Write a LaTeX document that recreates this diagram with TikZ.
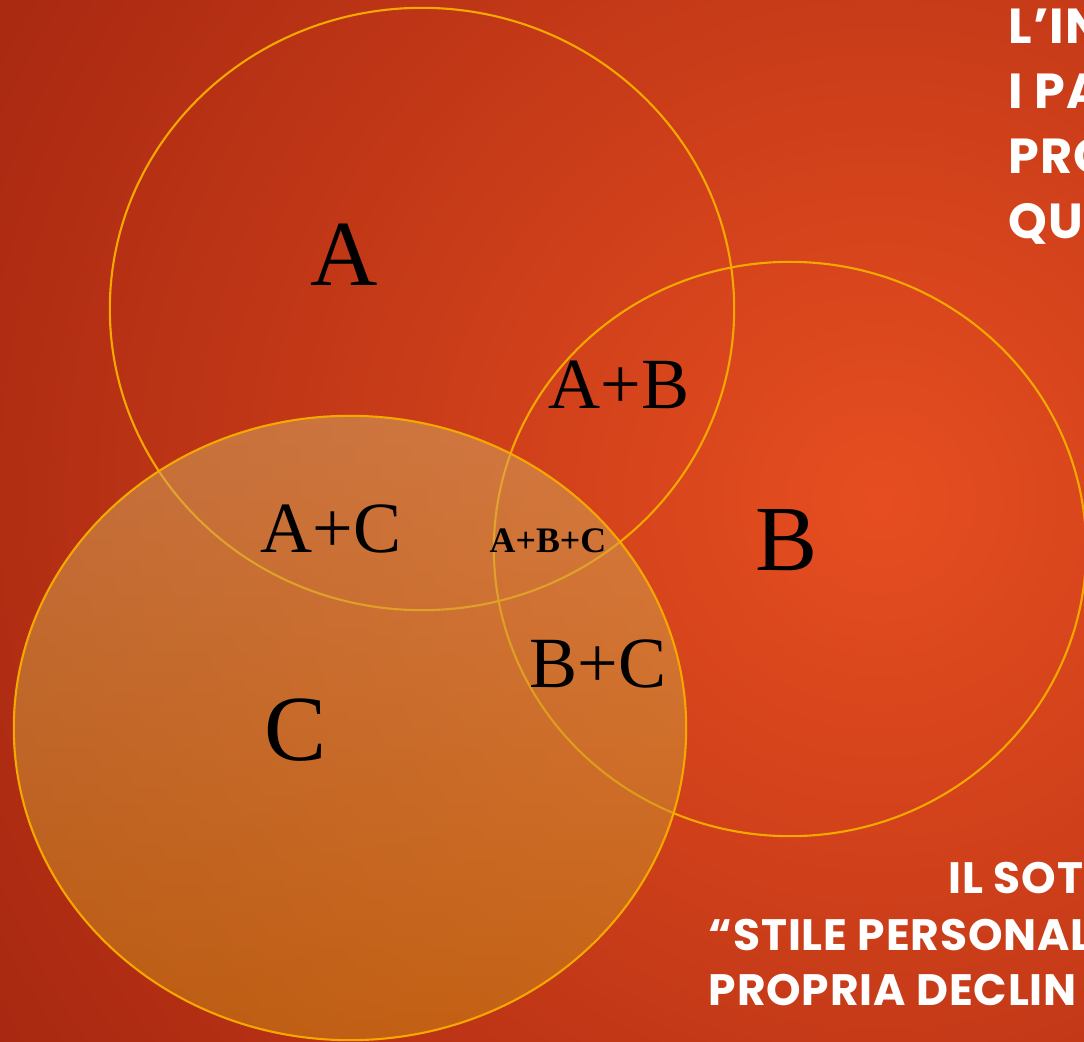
\documentclass[tikz,border=0pt]{standalone}
\usepackage{fontspec}
\setmainfont{Liberation Serif}
\newfontfamily\slidefont[LetterSpace=2]{Poppins}
\definecolor{bgin}{RGB}{230,78,32}
\definecolor{bgout}{RGB}{148,28,12}
\definecolor{ringcol}{RGB}{245,168,0}
\definecolor{ctop}{RGB}{210,165,95}
\definecolor{cbot}{RGB}{200,132,20}
\begin{document}
\begin{tikzpicture}[x=0.01cm,y=-0.01cm,
  ring/.style={draw=ringcol,line width=0.6pt},
  lab/.style={anchor=base,inner sep=0pt,font=\fontsize{20.5}{20.5}\selectfont},
  biglab/.style={anchor=base,inner sep=0pt,font=\fontsize{26.5}{26.5}\selectfont},
  slidetxt/.style={anchor=base west,inner sep=0pt,text=white,font=\slidefont\bfseries\fontsize{#1}{#1}\selectfont}]
\useasboundingbox (0,0) rectangle (1084,1042);
\clip (0,0) rectangle (1084,1042);
\shade[inner color=bgin,outer color=bgout] (880,500) circle (13.5cm);
% circles A and B
\coordinate (ca) at (422,309);
\coordinate (cb) at (790,549);
\coordinate (cc) at (350,728);
\draw[ring] (ca) ellipse [x radius=3.12cm,y radius=3.01cm];
\draw[ring] (cb) ellipse [x radius=2.96cm,y radius=2.87cm];
% circle C, filled
\shade[top color=ctop,bottom color=cbot,opacity=0.55] (cc) ellipse [x radius=3.36cm,y radius=3.12cm];
\draw[ring] (cc) ellipse [x radius=3.36cm,y radius=3.12cm];
\node[biglab] (la) at (344,285) {A};
\node[biglab] (lb) at (787,570) {B};
\node[biglab] (lc) at (296,760) {C};
\node[lab] (lab) at (619,408) {A+B};
\node[lab] (lac) at (331,552) {A+C};
\node[lab] (lbc) at (598,687) {B+C};
\node[anchor=base,inner sep=0pt,font=\bfseries\fontsize{10.2}{10.2}\selectfont] (labc) at (548,552) {A+B+C};
% text on the right
\node[slidetxt=14] (t1) at (1008,43) {L’IN};
\node[slidetxt=14] (t2) at (1008,108) {I PA};
\node[slidetxt=14] (t3) at (1008,173) {PRO};
\node[slidetxt=14] (t4) at (1008,238) {QU};
\node[slidetxt=12.5] (s1) at (948,893) {IL SOTT};
\node[slidetxt=12.5] (s2) at (708,950) {“STILE PERSONAL};
\node[slidetxt=12.5] (s3) at (708,1005) {PROPRIA DECLIN};
\end{tikzpicture}
\end{document}
